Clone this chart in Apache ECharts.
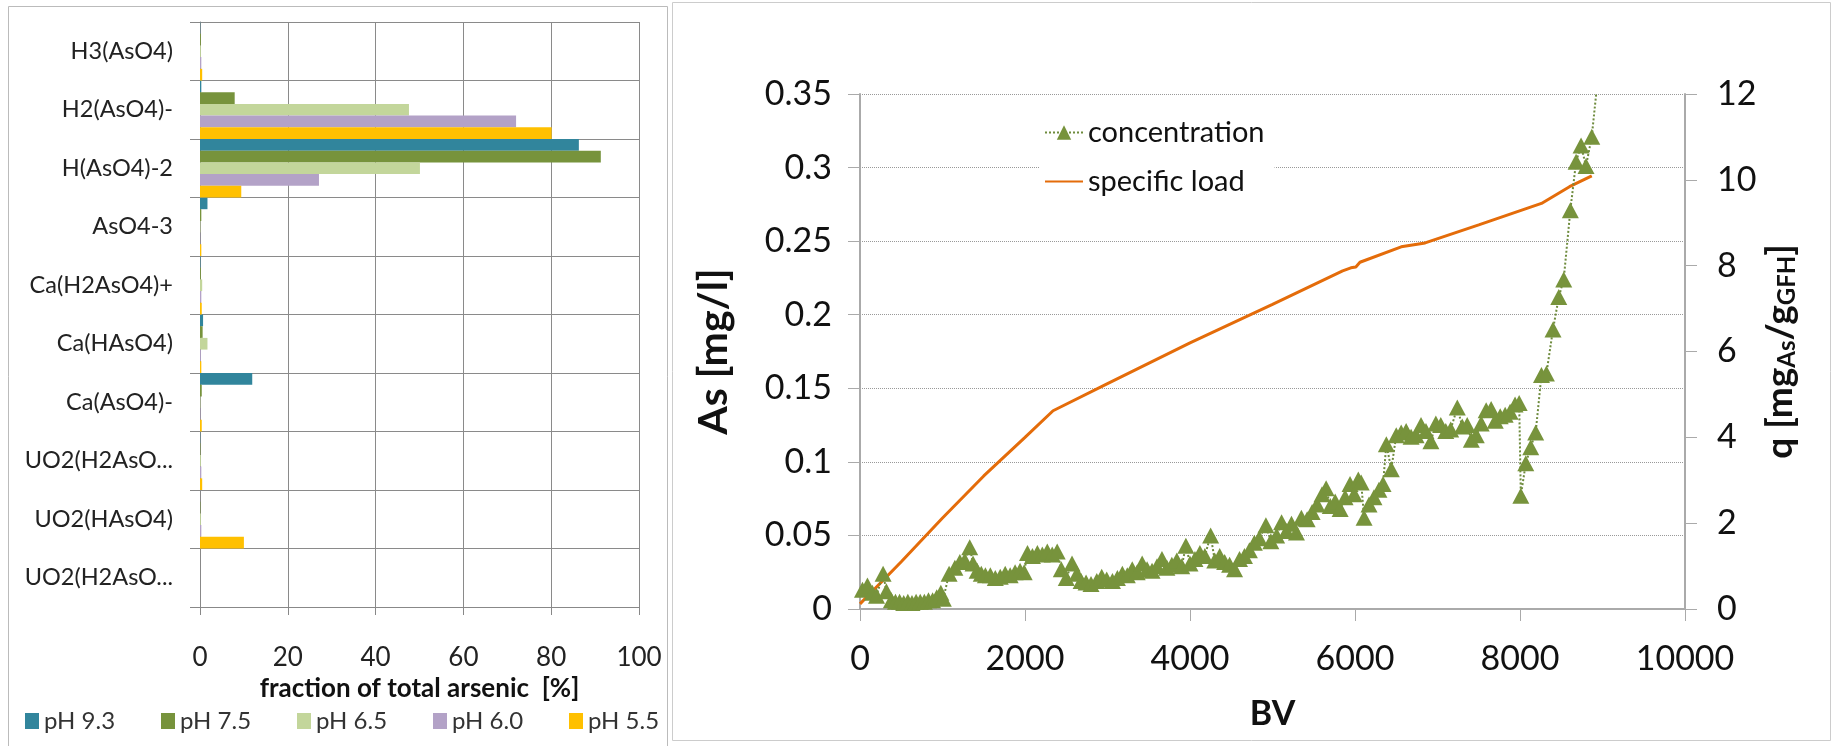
<!DOCTYPE html>
<html><head><meta charset="utf-8">
<script src="https://cdn.jsdelivr.net/npm/echarts@6/dist/echarts.min.js"></script>
<style>html,body{margin:0;padding:0;background:#fff}#c{width:1839px;height:746px}</style>
</head><body><div id="c"></div>
<script>
// ---- left chart: arsenic speciation ----
const species = ['H3(AsO4)', 'H2(AsO4)-', 'H(AsO4)-2', 'AsO4-3', 'Ca(H2AsO4)+', 'Ca(HAsO4)', 'Ca(AsO4)-', 'UO2(H2AsO...', 'UO2(HAsO4)', 'UO2(H2AsO...'];
const phNames = ['pH 9.3', 'pH 7.5', 'pH 6.5', 'pH 6.0', 'pH 5.5'];
const ph93 = [0.05, 0.3, 86.3, 1.7, 0.1, 0.7, 11.9, 0.05, 0, 0];
const ph75 = [0.2, 7.9, 91.3, 0.3, 0.2, 0.6, 0.4, 0.1, 0.1, 0];
const ph65 = [0.2, 47.6, 50.1, 0.1, 0.5, 1.7, 0.1, 0.2, 0.2, 0];
const ph60 = [0.3, 72.0, 27.1, 0.05, 0.3, 0.2, 0.1, 0.3, 0.3, 0];
const ph55 = [0.5, 80.1, 9.4, 0.3, 0.4, 0.3, 0.4, 0.5, 10.0, 0];
const phColors = ['#31859C', '#77933C', '#C3D69B', '#B3A2C7', '#FFC000'];

// ---- right chart: breakthrough ----
const conBV = [30,90,150,200,280,320,380,430,480,530,580,630,680,730,780,830,880,930,980,1010,
  1080,1150,1210,1270,1330,1370,1420,1470,1520,1580,1640,1700,1760,1820,1880,1940,1990,
  2030,2090,2150,2210,2270,2330,2390,2440,2500,2570,2630,2680,2740,2800,2870,2930,2990,
  3060,3120,3180,3240,3300,3360,3420,3480,3540,3600,3660,3720,3780,3840,3900,3950,
  4000,4060,4120,4180,4250,4300,4360,4420,4480,4540,4600,4660,4720,4780,4840,4920,4980,
  5050,5110,5170,5230,5290,5350,5420,5480,5540,5600,5650,5700,5760,5820,5880,5940,5990,
  6040,6075,6110,6170,6230,6290,6340,6380,6440,6500,6560,6620,6680,6740,6800,6860,6920,6980,
  7040,7100,7160,7240,7300,7360,7410,7470,7530,7590,7650,7700,7760,7820,7880,7940,7990,
  8010,8070,8130,8190,8260,8320,8400,8470,8530,8610,8680,8740,8800,8870,8960];
const conVal = [0.013,0.016,0.011,0.009,0.024,0.012,0.006,0.005,0.005,0.004,0.005,0.004,0.005,0.005,0.005,0.006,0.006,0.008,0.011,0.007,
  0.024,0.028,0.032,0.033,0.042,0.031,0.026,0.024,0.023,0.023,0.021,0.022,0.024,0.023,0.025,0.026,0.025,
  0.038,0.036,0.038,0.037,0.039,0.037,0.039,0.027,0.021,0.031,0.024,0.019,0.018,0.017,0.019,0.022,0.020,
  0.019,0.021,0.024,0.023,0.027,0.025,0.031,0.027,0.026,0.029,0.034,0.028,0.030,0.033,0.029,0.043,
  0.031,0.034,0.038,0.036,0.050,0.033,0.036,0.032,0.030,0.027,0.034,0.036,0.040,0.045,0.048,0.057,0.046,
  0.050,0.059,0.053,0.058,0.052,0.062,0.061,0.066,0.071,0.078,0.082,0.070,0.073,0.068,0.076,0.085,0.078,
  0.088,0.086,0.062,0.071,0.076,0.081,0.085,0.112,0.095,0.118,0.120,0.121,0.117,0.118,0.125,0.121,0.114,0.126,
  0.125,0.121,0.122,0.137,0.124,0.125,0.115,0.118,0.126,0.135,0.136,0.128,0.131,0.132,0.134,0.139,0.140,
  0.077,0.099,0.110,0.120,0.159,0.160,0.190,0.212,0.224,0.271,0.304,0.315,0.301,0.321,0.370];
const loadBV = [0,500,1000,1500,2000,2340,3000,4000,5000,5850,5950,6010,6060,6560,6850,7500,8260,8600,8870];
const loadVal = [0.12,1.1,2.12,3.1,4.0,4.62,5.25,6.2,7.1,7.88,7.95,7.97,8.08,8.44,8.53,8.95,9.45,9.84,10.09];

const FONT = 'Lato';
const chart = echarts.init(document.getElementById('c'), null, {renderer: 'canvas'});

const barSeries = [ph93, ph75, ph65, ph60, ph55].map((d, i) => ({
  name: phNames[i], type: 'bar', xAxisIndex: 0, yAxisIndex: 0, data: d,
  itemStyle: {color: phColors[i]}, barGap: '0%', barCategoryGap: '0%'
}));

const legendLefts = [20, 156, 292, 428, 564];
const legends = phNames.map((n, i) => ({
  data: [n], left: legendLefts[i], top: 704, icon: 'rect', itemWidth: 14, itemHeight: 16, itemGap: 0,
  textStyle: {fontFamily: FONT, fontSize: 24, color: '#333', padding: [0, 0, 0, 0]}, selectedMode: false
}));
legends.push({
  data: [{name: 'concentration'}, {name: 'specific load', itemStyle: {opacity: 0}}],
  orient: 'vertical', left: 1040, top: 112,
  itemWidth: 38, itemHeight: 18, itemGap: 20, backgroundColor: '#fff', padding: [6, 10, 6, 4],
  textStyle: {fontFamily: FONT, fontSize: 29, color: '#111'}, selectedMode: false
});

chart.setOption({
  animation: false,
  backgroundColor: '#fff',
  textStyle: {fontFamily: FONT},
  legend: legends,
  grid: [
    {left: 200, top: 22, width: 439, height: 585},
    {left: 860, top: 94, width: 825, height: 515}
  ],
  xAxis: [
    {gridIndex: 0, type: 'value', min: 0, max: 100, interval: 20,
     axisLine: {show: true, lineStyle: {color: '#888'}},
     axisTick: {show: true, length: 8, lineStyle: {color: '#888'}},
     splitLine: {show: true, lineStyle: {color: '#8a8a8a', width: 1}},
     axisLabel: {fontFamily: FONT, fontSize: 26, color: '#222', margin: 38},
     name: 'fraction of total arsenic  [%]', nameLocation: 'middle', nameGap: 69,
     nameTextStyle: {fontFamily: FONT, fontSize: 26, fontWeight: 'bold', color: '#111'}},
    {gridIndex: 1, type: 'value', min: 0, max: 10000, interval: 2000,
     axisLine: {show: true, lineStyle: {color: '#aaa', width: 2}},
     axisTick: {show: true, length: 12, lineStyle: {color: '#aaa'}},
     splitLine: {show: false},
     axisLabel: {fontFamily: FONT, fontSize: 34, color: '#111', margin: 33, formatter: v => String(v)},
     name: 'BV', nameLocation: 'middle', nameGap: 88,
     nameTextStyle: {fontFamily: FONT, fontSize: 34, fontWeight: 'bold', color: '#111'}}
  ],
  yAxis: [
    {gridIndex: 0, type: 'category', data: species, inverse: true,
     axisLine: {show: true, lineStyle: {color: '#888'}},
     axisTick: {show: true, length: 10, lineStyle: {color: '#888'}},
     splitLine: {show: true, lineStyle: {color: '#8a8a8a', width: 1}},
     axisLabel: {fontFamily: FONT, fontSize: 23.5, color: '#222', margin: 27}},
    {gridIndex: 1, type: 'value', min: 0, max: 0.35, interval: 0.05, position: 'left',
     axisLine: {show: true, lineStyle: {color: '#aaa', width: 2}},
     axisTick: {show: true, length: 12, lineStyle: {color: '#aaa'}},
     splitLine: {show: true, lineStyle: {color: '#999', type: 'dotted', width: 1}},
     axisLabel: {fontFamily: FONT, fontSize: 34, color: '#111', margin: 28},
     name: 'As [mg/l]', nameLocation: 'middle', nameRotate: 90, nameGap: 126,
     nameTextStyle: {fontFamily: FONT, fontSize: 41, fontWeight: 'bold', color: '#111'}},
    {gridIndex: 1, type: 'value', min: 0, max: 12, interval: 2, position: 'right',
     axisLine: {show: true, lineStyle: {color: '#aaa', width: 2}},
     axisTick: {show: true, length: 12, lineStyle: {color: '#aaa'}},
     splitLine: {show: false},
     axisLabel: {fontFamily: FONT, fontSize: 34, color: '#111', margin: 32},
     name: '{b|q [mg}{s|As}{b|/g}{s|GFH}{b|]}', nameLocation: 'middle', nameRotate: 90, nameGap: 60,
     nameTextStyle: {fontFamily: FONT, fontSize: 37, fontWeight: 'bold', color: '#111',
       rich: {b: {fontFamily: FONT, fontSize: 37, fontWeight: 'bold', color: '#111', lineHeight: 42},
              s: {fontFamily: FONT, fontSize: 24, fontWeight: 'bold', color: '#111', lineHeight: 42, padding: [15, 0, 0, 0]}}}}
  ],
  graphic: [
    {type: 'rect', shape: {x: 8.5, y: 6.5, width: 659, height: 745}, style: {fill: 'none', stroke: '#bbb', lineWidth: 1}, z: -10},
    {type: 'rect', shape: {x: 672.5, y: 2.5, width: 1158, height: 738}, style: {fill: 'none', stroke: '#ccc', lineWidth: 1}, z: -10}
  ],
  series: barSeries.concat([
    {name: 'specific load', type: 'line', xAxisIndex: 1, yAxisIndex: 2,
     data: loadBV.map((b, i) => [b, loadVal[i]]), showSymbol: false, symbol: 'none',
     lineStyle: {color: '#E46C0A', width: 3}, itemStyle: {color: '#E46C0A'}, z: 3},
    {name: 'concentration', type: 'line', xAxisIndex: 1, yAxisIndex: 1,
     data: conBV.map((b, i) => [b, conVal[i]]), symbol: 'triangle', symbolSize: [17, 16],
     lineStyle: {color: '#6E8B3D', width: 2, type: 'dotted'}, itemStyle: {color: '#77933C'}, z: 4}
  ])
});
</script></body></html>
